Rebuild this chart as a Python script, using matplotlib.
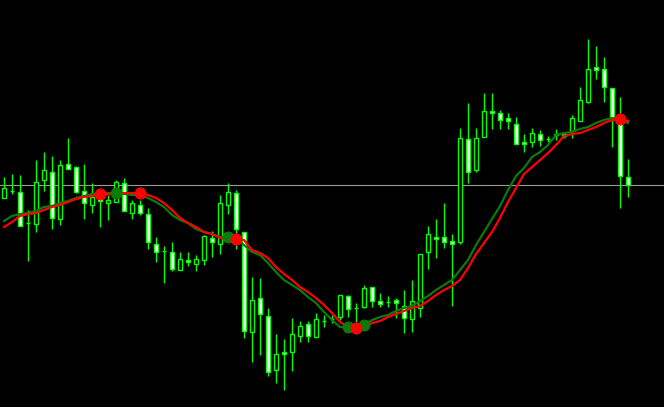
import numpy as np
import matplotlib
matplotlib.use('Agg')
import matplotlib.pyplot as plt

# OHLC candles (price in points)
opens = [209, 216, 215, 184, 183, 227, 235, 188, 243, 240, 216, 202, 212, 204, 205, 224,
         194, 202, 193, 163, 156, 155, 137, 147, 143, 147, 169, 163, 202, 214, 175, 75,
         109, 91, 37, 55, 55, 71, 83, 70, 86, 88, 90, 111, 99, 100, 120, 106, 105, 107,
         101, 88, 99, 155, 170, 170, 166, 165, 268, 237, 270, 296, 294, 289, 283, 265,
         265, 273, 268, 272, 273, 276, 286, 305, 340, 338, 319, 289, 230]
highs = [230, 233, 232, 197, 247, 255, 251, 247, 269, 241, 243, 224, 219, 212, 227, 229,
         207, 207, 199, 170, 161, 165, 155, 155, 152, 172, 176, 212, 224, 217, 175, 130,
         129, 99, 73, 68, 89, 86, 86, 94, 92, 92, 112, 112, 104, 122, 120, 114, 111, 109,
         117, 127, 153, 181, 188, 204, 173, 279, 304, 279, 314, 314, 297, 294, 290, 273,
         279, 277, 271, 278, 275, 292, 320, 368, 361, 350, 319, 310, 248]
lows = [209, 213, 181, 146, 175, 216, 178, 182, 238, 214, 188, 194, 180, 187, 205, 196,
        188, 192, 158, 145, 124, 136, 137, 141, 136, 142, 150, 153, 193, 158, 69, 45,
        52, 31, 24, 17, 36, 65, 65, 70, 80, 84, 87, 90, 80, 99, 100, 100, 100, 89,
        74, 75, 90, 138, 149, 159, 101, 163, 224, 235, 270, 278, 278, 278, 263, 255,
        260, 261, 265, 267, 269, 269, 286, 304, 328, 305, 260, 199, 210]
closes = [219, 216, 181, 184, 225, 237, 189, 242, 238, 215, 204, 210, 206, 207, 225, 196,
          204, 194, 165, 155, 156, 138, 148, 145, 148, 171, 165, 204, 215, 178, 76, 107,
          93, 35, 53, 53, 73, 81, 71, 88, 86, 88, 112, 98, 99, 119, 106, 103, 105, 104,
          89, 106, 153, 173, 168, 165, 163, 269, 235, 269, 296, 294, 287, 286, 263, 263,
          274, 267, 268, 273, 271, 289, 307, 338, 337, 320, 289, 231, 222]

# moving averages
ma_fast = [186, 191, 193, 194, 196, 200, 201, 204, 206, 209, 211, 213, 214, 214, 214, 213,
           212, 212, 209, 205, 200, 192, 187, 184, 178, 175, 173, 170, 170, 169, 162, 155,
           152, 144, 135, 127, 122, 117, 110, 104, 95, 87, 80, 80, 80, 82, 87, 90, 92, 96,
           99, 101, 106, 111, 117, 122, 127, 137, 147, 162, 175, 188, 201, 217, 231, 239,
           250, 255, 262, 272, 274, 275, 278, 280, 284, 287, 289, 288, 284]
ma_slow = [180, 185, 191, 193, 194, 197, 200, 202, 205, 208, 210, 211, 213, 213, 213, 214,
           214, 214, 212, 209, 204, 197, 189, 184, 180, 175, 173, 169, 168, 168, 167, 157,
           154, 149, 140, 133, 127, 120, 115, 109, 102, 94, 85, 80, 79, 79, 84, 86, 90, 93,
           96, 99, 101, 106, 112, 117, 121, 127, 139, 153, 164, 175, 189, 205, 219, 233,
           240, 247, 254, 262, 271, 273, 274, 277, 280, 284, 287, 288, 286]

# cross signal markers (bar indices)
red_signals = [12, 17, 29, 44, 77]
green_signals = [14, 28, 43, 45]

bid_price = 222

x = np.arange(len(opens))
o = np.array(opens)
c = np.array(closes)

fig = plt.figure(figsize=(6.64, 4.07), dpi=100, facecolor='black')
ax = fig.add_axes([0, 0, 1, 1])
ax.set_facecolor('black')

ax.axhline(bid_price, color='#9a9a9a', linewidth=0.8, zorder=1)

# wicks
ax.vlines(x, lows, highs, color='#00ff00', linewidth=1, zorder=2)

# bodies: white = bearish, black = bullish
bear = c < o
fills = np.where(bear, 'white', 'black')
ax.bar(x, c - o, bottom=o, width=0.55, color=fills, edgecolor='#00ff00',
       linewidth=1, zorder=3)

ax.plot(x, ma_fast, color='#0a7a0a', linewidth=1.6, zorder=4)
ax.plot(x, ma_slow, color='#ff0000', linewidth=1.6, zorder=5)

fast = np.array(ma_fast)
slow = np.array(ma_slow)
for idx in green_signals:
    ax.plot(idx, fast[idx], marker='o', markersize=6.5, color='#0a7a0a', zorder=6)
    ax.plot(idx, fast[idx], marker=(14, 1, 0), markersize=8.5, color='#0a7a0a', zorder=6)
for idx in red_signals:
    ax.plot(idx, slow[idx], marker='o', markersize=6.5, color='#ff0000', zorder=7)
    ax.plot(idx, slow[idx], marker=(14, 1, 0), markersize=8.5, color='#ff0000', zorder=7)

ax.set_xlim(-0.5, 82.5)
ax.set_ylim(0, 407)
ax.axis('off')

fig.savefig('out.png', dpi=100, facecolor='black')
